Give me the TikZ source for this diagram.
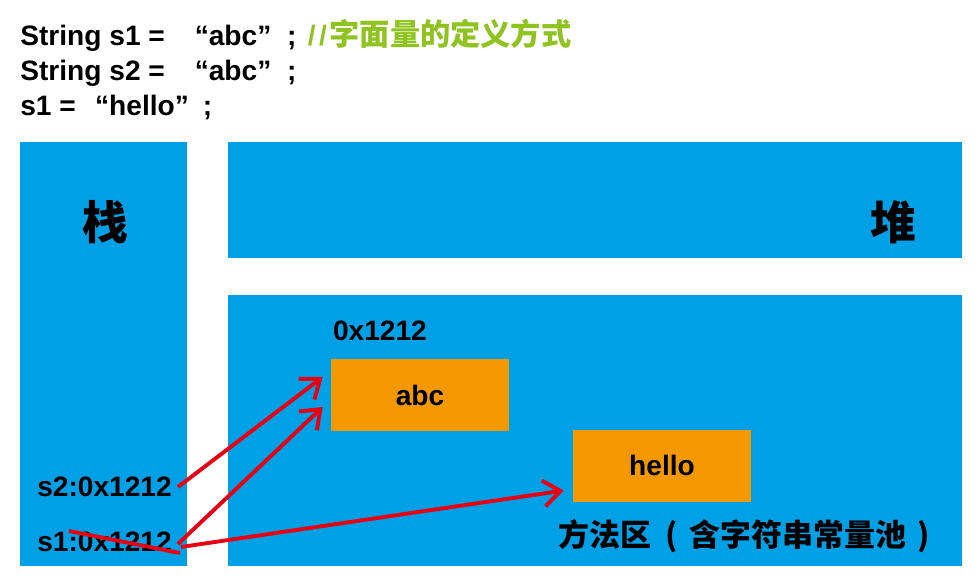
\documentclass[tikz,border=0pt]{standalone}
\usepackage{fontspec}
\setmainfont{Liberation Sans}
\newfontfamily\cjk{Noto Sans CJK SC}
\usepackage{xcolor}
\usepackage{tikz}
\usetikzlibrary{positioning, arrows.meta, calc}

\definecolor{areablue}{HTML}{00A0E6}
\definecolor{cellorange}{HTML}{F39800}
\definecolor{ptrred}{HTML}{E60012}
\definecolor{notegreen}{HTML}{8FC31F}

\begin{document}
\begin{tikzpicture}[
area/.style={rectangle, fill=areablue, inner sep=0pt},
cell/.style={rectangle, fill=cellorange, minimum width=3.56cm, minimum height=1.44cm, font=\fontsize{16}{18}\selectfont\bfseries},
code/.style={anchor=base west, inner sep=0pt, font=\fontsize{16}{18}\selectfont\bfseries},
var/.style={font=\fontsize{16}{18}\selectfont\bfseries},
title/.style={inner sep=0pt, font=\fontsize{26}{28}\selectfont\cjk\bfseries},
ptr/.style={draw=ptrred, line width=2.2pt, -{Straight Barb[length=3.4mm, width=5.2mm, line width=2.2pt]}}]
    \useasboundingbox (0,0) rectangle (19.6,-11.72);

    % code lines
    \node[code] (line1) at (0.4,-0.9) {String s1 =\hspace{17pt}“abc”\hspace{9pt}; \hspace{2pt}\textcolor{notegreen}{/\hspace{2pt}/\hspace{1.5pt}{\fontsize{17.2}{19}\selectfont\cjk\bfseries 字面量的定义方式}}};
    \node[code] (line2) at (0.4,-1.6) {String s2 =\hspace{17pt}“abc”\hspace{9pt};};
    \node[code] (line3) at (0.4,-2.3) {s1 =\hspace{11pt}“hello”\hspace{8pt};};

    % memory areas
    \node[area, minimum width=3.34cm, minimum height=8.48cm] (stack) at (2.07,-7.08) {};
    \node[area, minimum width=14.68cm, minimum height=2.32cm] (heap) at (11.9,-4.0) {};
    \node[area, minimum width=14.68cm, minimum height=5.42cm] (method) at (11.9,-8.61) {};

    \node[title] (stacklbl) at (2.1,-4.44) {栈};
    \node[title] (heaplbl) at (17.86,-4.44) {堆};

    \node[cell] (abc) at (8.4,-7.9) {abc};
    \node[cell] (hello) at (13.24,-9.31) {hello};
    \node[code, above right=0.36cm and 0.04cm of abc.north west, anchor=base west] (addr) {0x1212};
    \node[inner sep=0pt, anchor=west, font=\fontsize{17.6}{20}\selectfont\cjk\bfseries] (poollbl) at (11.16,-10.72) {方法区\hspace{0.45em}(\hspace{0.4em}含字符串常量池\hspace{0.35em})};

    \node[var] (s2) at (2.09,-9.74) {s2:0x1212};
    \node[var] (s1) at (2.09,-10.84) {s1:0x1212};

    % references
    \draw[ptr] (s2.east) -- ([shift={(-0.16,0.36)}]abc.west);
    \draw[ptr] ([yshift=-0.04cm]s1.east) -- ([shift={(-0.16,-0.24)}]abc.west);
    \draw[ptr] ([shift={(0.06,-0.1)}]s1.east) -- ([shift={(-0.18,-0.5)}]hello.west);
    \draw[ptrred, line width=2.2pt] ($(s1.west)+(0.76,0.22)$) -- ($(s1.east)+(0.04,-0.22)$);
\end{tikzpicture}
\end{document}
